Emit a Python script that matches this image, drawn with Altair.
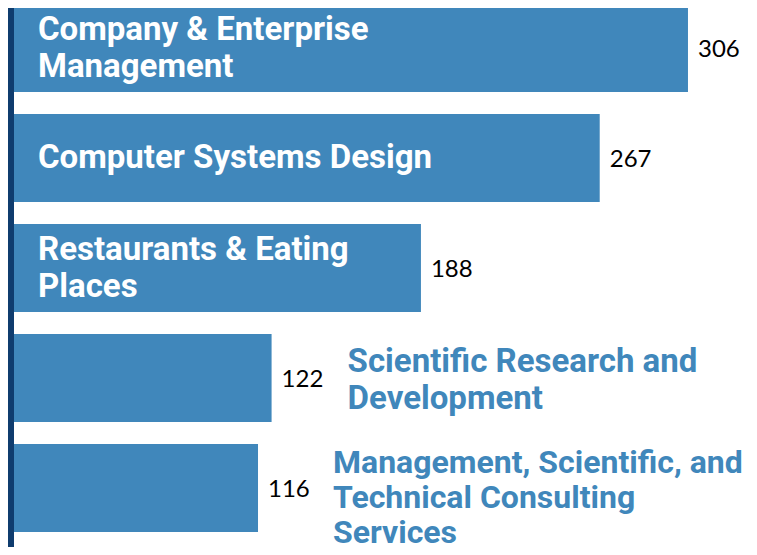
import altair as alt
import pandas as pd

categories = [
    "Company & Enterprise Management",
    "Computer Systems Design",
    "Restaurants & Eating Places",
    "Scientific Research and Development",
    "Management, Scientific, and Technical Consulting Services",
]
values = [306, 267, 188, 122, 116]
label_lines = [
    ["Company & Enterprise", "Management"],
    ["Computer Systems Design"],
    ["Restaurants & Eating", "Places"],
    ["Scientific Research and", "Development"],
    ["Management, Scientific, and", "Technical Consulting", "Services"],
]
inside = [True, True, True, False, False]

df = pd.DataFrame({
    "cat": categories,
    "value": values,
    "lines": label_lines,
    "inside": inside,
})

W, H = 741, 539
BLUE = "#4087bb"
NAVY = "#0f3c6e"
CAT_FONT = "Roboto, sans-serif"
FS = 33
LH = 37

y = alt.Y("cat:N", sort=categories, axis=None,
          scale=alt.Scale(range=[-4, 524], paddingInner=0.2, paddingOuter=0))
x = alt.X("value:Q", axis=None,
          scale=alt.Scale(domain=[0, 300], range=[-12.5, 666.4], nice=False))

base = alt.Chart(df)

bars = base.mark_bar(color=BLUE).encode(x=x, y=y)

values_txt = base.mark_text(align="left", baseline="middle", dx=10, dy=2,
                            font="Lato", fontSize=24, color="#000000").encode(
    x=x, y=y, text="value:Q")

in1 = base.transform_filter("datum.inside && length(datum.lines) == 1").mark_text(
    align="left", baseline="middle", font=CAT_FONT, fontWeight="bold",
    fontSize=FS, lineHeight=LH, color="white").encode(
    x=alt.value(30), y=y, text="lines")

in2 = base.transform_filter("datum.inside && length(datum.lines) == 2").mark_text(
    align="left", baseline="middle", dy=-18, font=CAT_FONT, fontWeight="bold",
    fontSize=FS, lineHeight=LH, color="white").encode(
    x=alt.value(30), y=y, text="lines")

out4 = base.transform_filter("!datum.inside && length(datum.lines) == 2").mark_text(
    align="left", baseline="middle", dx=76, dy=-16, font=CAT_FONT, fontWeight="bold",
    fontSize=FS, lineHeight=LH, color=BLUE).encode(
    x=x, y=y, text="lines")

out5 = base.transform_filter("!datum.inside && length(datum.lines) == 3").mark_text(
    align="left", baseline="middle", dx=75, dy=-25, font=CAT_FONT, fontWeight="bold",
    fontSize=32, lineHeight=35, color=BLUE).encode(
    x=x, y=y, text="lines")

edge = alt.Chart(pd.DataFrame({"a": [0]})).mark_rect(color=NAVY).encode(
    x=alt.value(0), x2=alt.value(6), y=alt.value(0), y2=alt.value(H))

chart = alt.layer(bars, values_txt, in1, in2, out4, out5, edge).properties(
    width=W, height=H, padding=0, autosize=alt.AutoSizeParams(type="none")
).configure_view(stroke=None)

chart.save("out.html", embed_options={"renderer": "svg", "actions": False})
